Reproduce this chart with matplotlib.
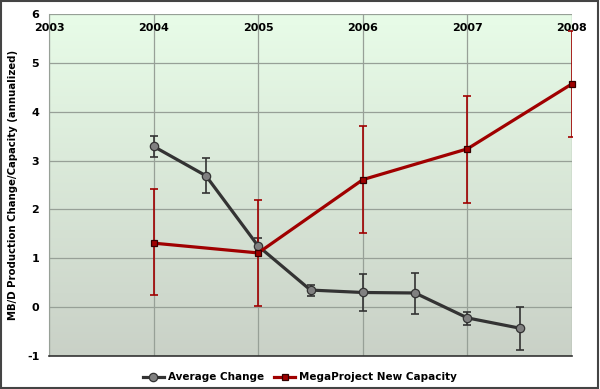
import numpy as np
import matplotlib
matplotlib.use("Agg")
import matplotlib.pyplot as plt
from matplotlib.patches import Rectangle

# Data
avg_x = [2004.0, 2004.5, 2005.0, 2005.5, 2006.0, 2006.5, 2007.0, 2007.5]
avg_y = [3.29, 2.69, 1.25, 0.35, 0.30, 0.29, -0.22, -0.43]
avg_err_hi = [3.50, 3.05, 1.42, 0.45, 0.68, 0.69, -0.10, 0.00]
avg_err_lo = [3.08, 2.33, 1.10, 0.22, -0.07, -0.14, -0.36, -0.87]

mp_x = [2004, 2005, 2006, 2007, 2008]
mp_y = [1.31, 1.11, 2.61, 3.24, 4.57]
mp_err_hi = [2.41, 2.19, 3.70, 4.32, 5.66]
mp_err_lo = [0.24, 0.02, 1.51, 2.14, 3.49]

year_ticks = [2003, 2004, 2005, 2006, 2007, 2008]
y_ticks = [-1, 0, 1, 2, 3, 4, 5, 6]
ylabel = "MB/D Production Change/Capacity (annualized)"

plt.rcParams['font.family'] = ['DejaVu Sans']
plt.rcParams['axes.unicode_minus'] = False

fig = plt.figure(figsize=(6.0, 3.89), dpi=100)
fig.patch.set_facecolor('white')
fig.patches.append(Rectangle((0.002, 0.003), 0.995, 0.994, transform=fig.transFigure,
                             fill=False, edgecolor='#444444', linewidth=1.5))
ax = fig.add_axes([0.0817, 0.0848, 0.8716, 0.8792])

# gradient background
grad = np.linspace(0, 1, 256).reshape(-1, 1)
top = np.array([0.91, 0.99, 0.91])
bot = np.array([0.79, 0.82, 0.78])
img = top[None, None, :] * (1 - grad[:, :, None]) + bot[None, None, :] * grad[:, :, None]
ax.imshow(img, extent=[0, 1, 0, 1], transform=ax.transAxes, aspect='auto', zorder=0)

ax.set_xlim(2003, 2008)
ax.set_ylim(-1, 6)
ax.set_xticks(year_ticks)
ax.set_yticks(y_ticks)
ax.grid(True, color='#97a097', linewidth=0.9, zorder=1)
ax.set_axisbelow(True)

ax.xaxis.tick_top()
ax.tick_params(axis='x', length=0, pad=-14, labelsize=8)
ax.tick_params(axis='y', length=0, pad=7, labelsize=8)
for lab in ax.get_xticklabels() + ax.get_yticklabels():
    lab.set_fontweight('bold')

for s in ['top', 'right']:
    ax.spines[s].set_visible(False)
ax.spines['left'].set_color('#97a097')
ax.spines['bottom'].set_color('#333333')
ax.spines['bottom'].set_linewidth(1.2)

ax.set_ylabel(ylabel, fontsize=7.3, fontweight='bold')
ax.yaxis.set_label_coords(-0.06, 0.5)

avg_y_a = np.array(avg_y)
mp_y_a = np.array(mp_y)
ax.errorbar(avg_x, avg_y, yerr=[avg_y_a - np.array(avg_err_lo), np.array(avg_err_hi) - avg_y_a],
            fmt='none', ecolor='#333333', elinewidth=1.2, capsize=3, capthick=1.2, zorder=3)
ax.errorbar(mp_x, mp_y, yerr=[mp_y_a - np.array(mp_err_lo), np.array(mp_err_hi) - mp_y_a],
            fmt='none', ecolor='#a00000', elinewidth=1.2, capsize=3, capthick=1.2, zorder=3)

l1, = ax.plot(avg_x, avg_y, color='#333333', linewidth=2.3, marker='o', markersize=6,
              markerfacecolor='#808080', markeredgecolor='#333333', markeredgewidth=0.9,
              label='Average Change', zorder=4, clip_on=False)
l2, = ax.plot(mp_x, mp_y, color='#a00000', linewidth=2.3, marker='s', markersize=5,
              markerfacecolor='#a00000', markeredgecolor='#330000', markeredgewidth=0.9,
              label='MegaProject New Capacity', zorder=5, clip_on=False)

leg = fig.legend(handles=[l1, l2], loc='center', bbox_to_anchor=(0.5, 0.03), ncol=2,
                 frameon=False, prop={'weight': 'bold', 'size': 7.5}, handlelength=2.0,
                 columnspacing=1.0, handletextpad=0.4)

fig.savefig('out.png', dpi=100)
